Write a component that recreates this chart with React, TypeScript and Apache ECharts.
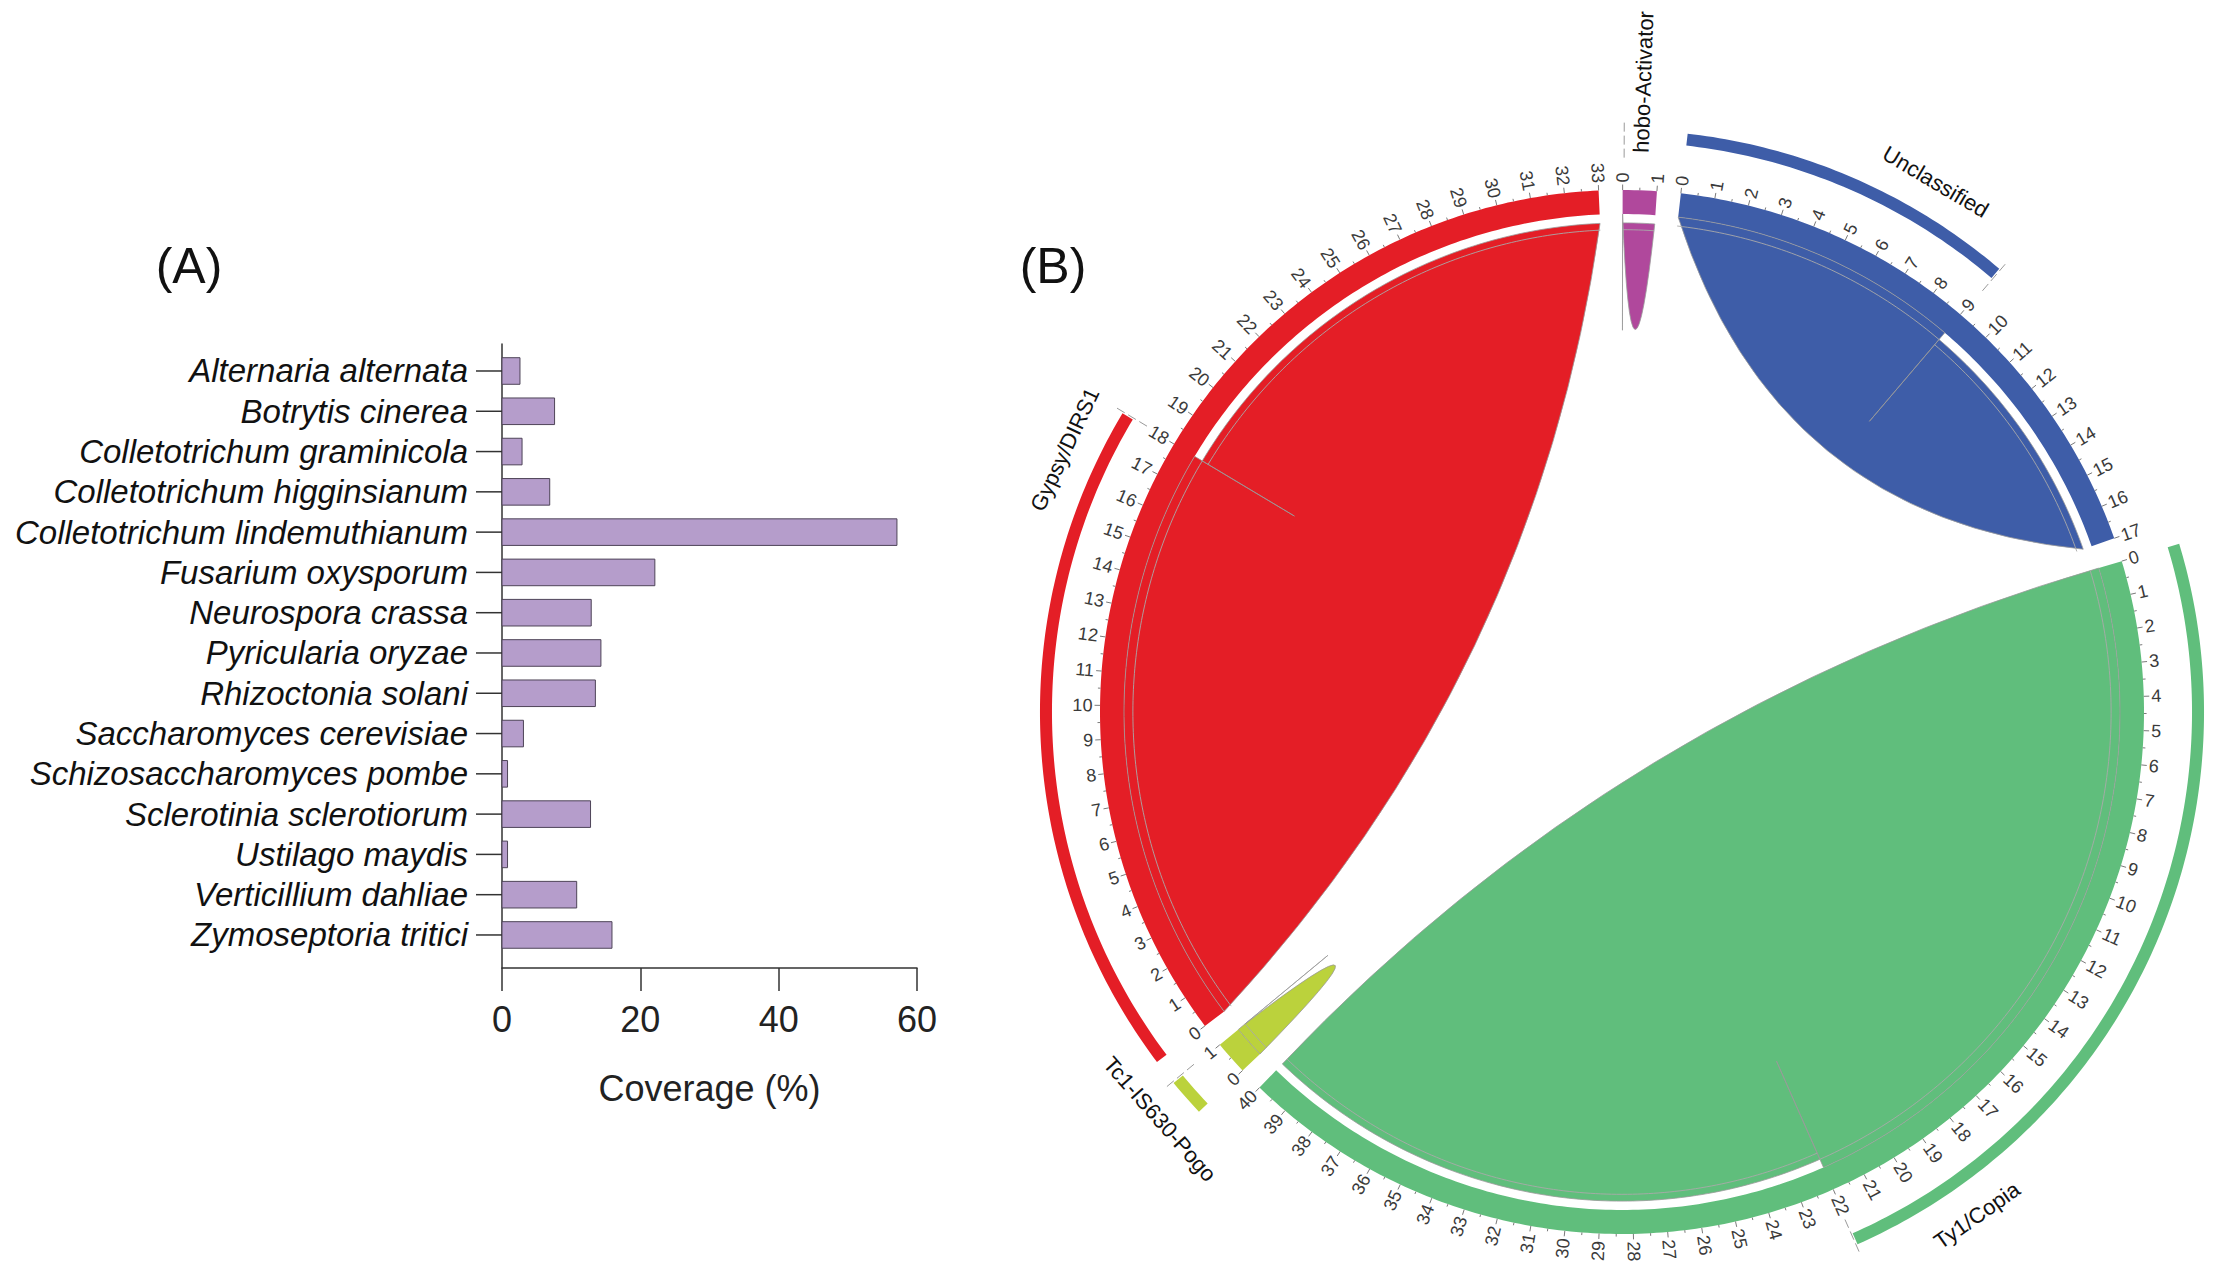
import React, { useEffect, useRef } from 'react';
import * as echarts from 'echarts';

// ---------- Panel A data ----------
const SPECIES = [
  'Alternaria alternata',
  'Botrytis cinerea',
  'Colletotrichum graminicola',
  'Colletotrichum higginsianum',
  'Colletotrichum lindemuthianum',
  'Fusarium oxysporum',
  'Neurospora crassa',
  'Pyricularia oryzae',
  'Rhizoctonia solani',
  'Saccharomyces cerevisiae',
  'Schizosaccharomyces pombe',
  'Sclerotinia sclerotiorum',
  'Ustilago maydis',
  'Verticillium dahliae',
  'Zymoseptoria tritici',
];
const COVERAGE = [2.6, 7.6, 2.9, 6.9, 57.1, 22.1, 12.9, 14.3, 13.5, 3.1, 0.8, 12.8, 0.8, 10.8, 15.9];
const X_TICKS = [0, 20, 40, 60];

// ---------- Panel B data ----------
const TE_FAMILIES = ['Ty1/Copia', 'Tc1-IS630-Pogo', 'Gypsy/DIRS1', 'hobo-Activator', 'Unclassified'];
const TE_TOTAL = [40, 1, 33, 1, 17];
const TE_LINKED = [22, 1, 18, 0, 9];
const TE_COLORS = ['#60BE7C', '#BBD23C', '#E41E26', '#B0489C', '#3E5DA8'];

// ---------- layout / style ----------
const GAP = 0.7;
const NAME_POS = [19.0, 0.53, 16.5, 0.5, 6.4];
const NAME_RADIAL = [false, false, false, true, false];
const R_GRID_OUT = 1;
const R_GRID_IN = 0.954;
const R_END2 = 0.937;
const R_TICK_MAJ = 1.0105;
const R_TICK_MIN = 1.005;
const R_TICK_LAB = 1.0145;
const R_OUT_IN = 1.092;
const R_OUT_OUT = 1.115;
const R_NAME = 1.18;
const R_NAME_RADIAL = 1.072;
const FONT = '"Liberation Sans", Arial, Helvetica, sans-serif';

const SECTOR_START: number[] = (() => {
  const s: number[] = [];
  let acc = 0;
  TE_TOTAL.forEach((n) => {
    s.push(acc);
    acc += n + GAP;
  });
  return s;
})();
const ANGLE_MAX = TE_TOTAL.reduce((a, b) => a + b, 0) + GAP * TE_TOTAL.length;

function arcPts(api: any, r: number, a0: number, a1: number): number[][] {
  const steps = Math.max(2, Math.ceil(Math.abs(a1 - a0) * 6) + 1);
  const pts: number[][] = [];
  for (let j = 0; j < steps; j++) {
    const a = a0 + ((a1 - a0) * j) / (steps - 1);
    pts.push(api.coord([r, a]));
  }
  return pts;
}

function screenAngle(c: number[], p: number[]) {
  return (Math.atan2(p[1] - c[1], p[0] - c[0]) * 180) / Math.PI;
}

function radialRot(theta: number) {
  let t = ((theta % 360) + 360) % 360;
  if (t >= 90 && t < 270) return { rot: t - 180, align: 'right' };
  if (t >= 270) t -= 360;
  return { rot: t, align: 'left' };
}

function tangentRot(theta: number) {
  let t = (((theta + 90) % 180) + 180) % 180;
  if (t >= 90) t -= 180;
  return t;
}

function txt(x: number, y: number, rotDeg: number, text: string, font: string, align: string, fill: string) {
  return {
    type: 'text',
    x,
    y,
    rotation: (-rotDeg * Math.PI) / 180,
    style: {
      text,
      font,
      fill,
      align,
      verticalAlign: 'middle',
      textAlign: align,
      textVerticalAlign: 'middle',
    },
  };
}

function buildOption() {
  const sectorData = TE_TOTAL.map((n, i) => [1, SECTOR_START[i], i]);

  const f = (v: number) => v.toFixed(2);

  return {
    animation: false,
    backgroundColor: '#ffffff',
    graphic: [
      {
        type: 'text',
        x: 189,
        y: 266,
        style: { text: '(A)', font: `50px ${FONT}`, fill: '#111', align: 'center', verticalAlign: 'middle', textAlign: 'center', textVerticalAlign: 'middle' },
      },
      {
        type: 'text',
        x: 1053,
        y: 266,
        style: { text: '(B)', font: `50px ${FONT}`, fill: '#111', align: 'center', verticalAlign: 'middle', textAlign: 'center', textVerticalAlign: 'middle' },
      },
    ],
    grid: { left: 502, top: 344, width: 415, height: 624 },
    xAxis: {
      type: 'value',
      min: 0,
      max: 60,
      interval: 20,
      name: 'Coverage (%)',
      nameLocation: 'middle',
      nameGap: 102,
      nameTextStyle: { fontSize: 36, fontFamily: FONT, color: '#222' },
      axisLine: { show: true, onZero: false, lineStyle: { color: '#333', width: 1.5 } },
      axisTick: { show: true, length: 23, lineStyle: { color: '#333', width: 1.5 } },
      axisLabel: { fontSize: 36, fontFamily: FONT, color: '#222', margin: 33 },
      splitLine: { show: false },
    },
    yAxis: {
      type: 'value',
      inverse: true,
      min: -0.67,
      max: 14.82,
      axisLine: { show: true, onZero: false, lineStyle: { color: '#333', width: 1.5 } },
      axisTick: { show: false },
      axisLabel: { show: false },
      splitLine: { show: false },
    },
    polar: { center: [1622, 712], radius: 522 },
    angleAxis: {
      type: 'value',
      min: 0,
      max: ANGLE_MAX,
      startAngle: 16.8,
      clockwise: true,
      show: false,
      axisLine: { show: false },
      axisTick: { show: false },
      axisLabel: { show: false },
      splitLine: { show: false },
    },
    radiusAxis: {
      type: 'value',
      min: 0,
      max: 1,
      show: false,
      axisLine: { show: false },
      axisTick: { show: false },
      axisLabel: { show: false },
      splitLine: { show: false },
    },
    series: [
      // ----- Panel A: bars, category labels and ticks -----
      {
        type: 'custom',
        coordinateSystem: 'cartesian2d',
        silent: true,
        clip: false,
        data: SPECIES.map((s, i) => [COVERAGE[i], i]),
        renderItem: (params: any, api: any) => {
          const v = api.value(0);
          const i = api.value(1);
          const p0 = api.coord([0, i]);
          const p1 = api.coord([v, i]);
          const h = Math.abs(api.size([0, 1])[1]) * 0.66;
          return {
            type: 'group',
            children: [
              {
                type: 'rect',
                shape: { x: p0[0], y: p0[1] - h / 2, width: p1[0] - p0[0], height: h },
                style: { fill: '#B59DCB', stroke: '#4E4458', lineWidth: 1 },
              },
              {
                type: 'line',
                shape: { x1: p0[0] - 26, y1: p0[1], x2: p0[0], y2: p0[1] },
                style: { stroke: '#333', lineWidth: 1.5 },
              },
              txt(p0[0] - 34, p0[1], 0, SPECIES[i], `italic 33px ${FONT}`, 'right', '#111'),
            ],
          };
        },
      },
      // ----- Panel B: grid track -----
      {
        type: 'custom',
        coordinateSystem: 'polar',
        silent: true,
        data: sectorData,
        renderItem: (params: any, api: any) => {
          const i = api.value(2);
          const S = SECTOR_START[i];
          const n = TE_TOTAL[i];
          const outer = arcPts(api, R_GRID_OUT, S, S + n);
          const inner = arcPts(api, R_GRID_IN, S + n, S);
          return {
            type: 'polygon',
            shape: { points: outer.concat(inner) },
            style: { fill: TE_COLORS[i], stroke: null },
          };
        },
      },
      // ----- Panel B: chords (self links) -----
      {
        type: 'custom',
        coordinateSystem: 'polar',
        silent: true,
        data: sectorData,
        renderItem: (params: any, api: any) => {
          const i = api.value(2);
          const S = SECTOR_START[i];
          const n = TE_TOTAL[i];
          const k = TE_LINKED[i];
          const c = api.coord([0, 0]);
          const pr = api.coord([1, 0]);
          const Rpx = Math.hypot(pr[0] - c[0], pr[1] - c[1]);
          const quad = (p0: number[], p2: number[]) => {
            const mx = (p0[0] + p2[0]) / 2;
            const my = (p0[1] + p2[1]) / 2;
            const L = Math.hypot(p2[0] - p0[0], p2[1] - p0[1]);
            let dx = c[0] - mx;
            let dy = c[1] - my;
            const d = Math.hypot(dx, dy) || 1;
            dx /= d;
            dy /= d;
            const o = Math.max(0.06 * Rpx, 0.215 * Rpx - 0.05 * L);
            const ax = mx + dx * o;
            const ay = my + dy * o;
            const qx = 2 * ax - mx;
            const qy = 2 * ay - my;
            return `Q${f(qx)},${f(qy)} ${f(p2[0])},${f(p2[1])}`;
          };
          const e1 = arcPts(api, R_GRID_IN, S, S + k);
          const e2 = arcPts(api, R_END2, S + k, S + n);
          let d = `M${f(e1[0][0])},${f(e1[0][1])}`;
          for (let j = 1; j < e1.length; j++) d += `L${f(e1[j][0])},${f(e1[j][1])}`;
          d += quad(e1[e1.length - 1], e2[0]);
          for (let j = 1; j < e2.length; j++) d += `L${f(e2[j][0])},${f(e2[j][1])}`;
          d += quad(e2[e2.length - 1], e1[0]);
          d += 'Z';
          const children: any[] = [
            {
              type: 'path',
              shape: { pathData: d },
              style: { fill: TE_COLORS[i], stroke: '#9a9a9a', lineWidth: 0.8 },
            },
          ];
          if (k > 0) {
            children.push({
              type: 'polyline',
              shape: { points: arcPts(api, R_END2, S, S + k) },
              style: { stroke: '#a9a9a9', lineWidth: 0.9, fill: null },
            });
          }
          if (n > k) {
            children.push({
              type: 'polyline',
              shape: { points: arcPts(api, R_END2 - 0.013, S + k, S + n) },
              style: { stroke: '#a9a9a9', lineWidth: 0.9, fill: null },
            });
          }
          return { type: 'group', children };
        },
      },
      // ----- Panel B: axis ticks and labels -----
      {
        type: 'custom',
        coordinateSystem: 'polar',
        silent: true,
        data: sectorData,
        renderItem: (params: any, api: any) => {
          const i = api.value(2);
          const S = SECTOR_START[i];
          const n = TE_TOTAL[i];
          const c = api.coord([0, 0]);
          const children: any[] = [];
          for (let t = 0; t <= n; t += 0.5) {
            const major = Math.abs(t - Math.round(t)) < 1e-6;
            const a = api.coord([R_GRID_OUT, S + t]);
            const b = api.coord([major ? R_TICK_MAJ : R_TICK_MIN, S + t]);
            children.push({
              type: 'line',
              shape: { x1: a[0], y1: a[1], x2: b[0], y2: b[1] },
              style: { stroke: '#7a7a7a', lineWidth: 1 },
            });
            if (major) {
              const p = api.coord([R_TICK_LAB, S + t]);
              const rr = radialRot(screenAngle(c, p));
              children.push(txt(p[0], p[1], rr.rot, String(Math.round(t)), `18px ${FONT}`, rr.align, '#3a3a3a'));
            }
          }
          return { type: 'group', children };
        },
      },
      // ----- Panel B: outer track and family names -----
      {
        type: 'custom',
        coordinateSystem: 'polar',
        silent: true,
        data: sectorData,
        renderItem: (params: any, api: any) => {
          const i = api.value(2);
          const S = SECTOR_START[i];
          const k = TE_LINKED[i];
          const c = api.coord([0, 0]);
          const children: any[] = [];
          if (k > 0) {
            const outer = arcPts(api, R_OUT_OUT, S, S + k);
            const inner = arcPts(api, R_OUT_IN, S + k, S);
            children.push({
              type: 'polygon',
              shape: { points: outer.concat(inner) },
              style: { fill: TE_COLORS[i], stroke: null },
            });
          }
          const g0 = api.coord([1.062, S + k + 0.04]);
          const g1 = api.coord([1.132, S + k + 0.04]);
          children.push({
            type: 'line',
            shape: { x1: g0[0], y1: g0[1], x2: g1[0], y2: g1[1] },
            style: { stroke: '#9a9a9a', lineWidth: 1, lineDash: [9, 4] },
          });
          if (NAME_RADIAL[i]) {
            const p = api.coord([R_NAME_RADIAL, S + NAME_POS[i]]);
            const rr = radialRot(screenAngle(c, p));
            children.push(txt(p[0], p[1], rr.rot, TE_FAMILIES[i], `22px ${FONT}`, rr.align, '#111'));
          } else {
            const p = api.coord([R_NAME, S + NAME_POS[i]]);
            const rot = tangentRot(screenAngle(c, p));
            children.push(txt(p[0], p[1], rot, TE_FAMILIES[i], `22px ${FONT}`, 'center', '#111'));
          }
          return { type: 'group', children };
        },
      },
    ],
  };
}

export default function App() {
  const ref = useRef<HTMLDivElement>(null);
  useEffect(() => {
    if (!ref.current) return;
    const chart = echarts.init(ref.current, null, { renderer: 'svg' });
    chart.setOption(buildOption() as any);
    return () => {
      chart.dispose();
    };
  }, []);
  return (
    <div
      ref={ref}
      style={{ position: 'absolute', left: 0, top: 0, width: 2222, height: 1272, background: '#fff' }}
    />
  );
}
